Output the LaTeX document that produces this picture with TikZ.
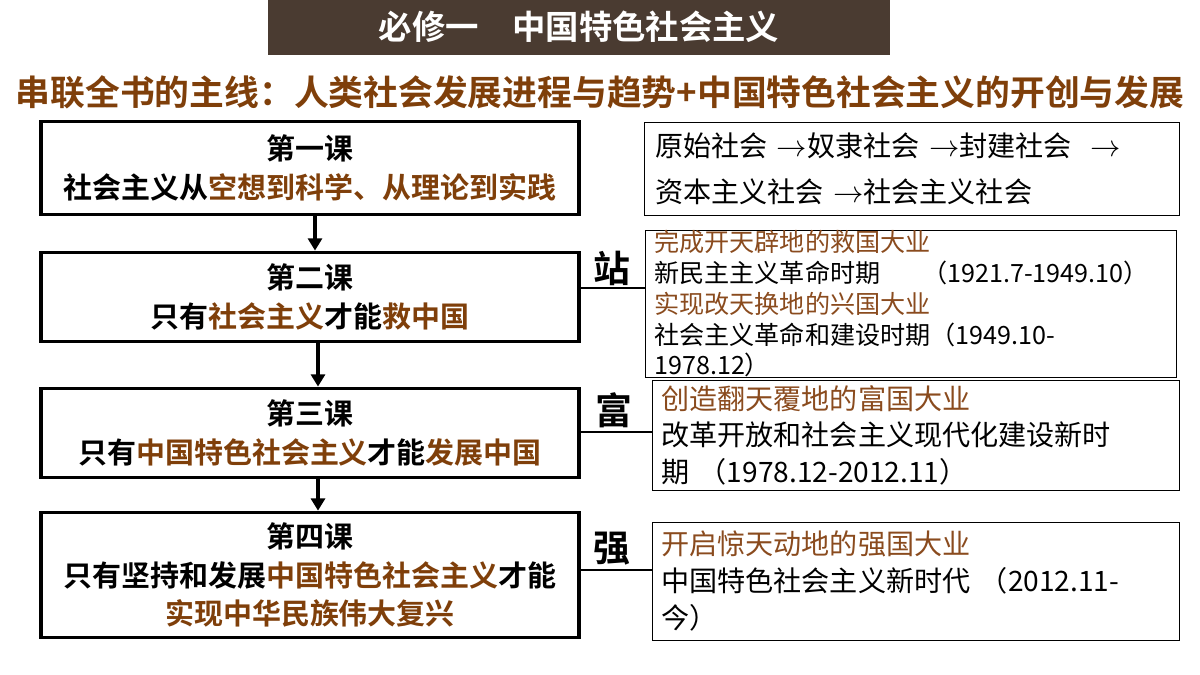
\documentclass[tikz,border=0pt]{standalone}
\usepackage{fontspec}
\setmainfont{Noto Sans CJK SC}[BoldFont={* Bold}]
\usetikzlibrary{arrows.meta}
\definecolor{barbrown}{HTML}{4A3B31}
\definecolor{keybrown}{HTML}{7F3F0A}
\definecolor{notebrown}{HTML}{8A4B1E}
\newcommand{\kb}[1]{\textcolor{keybrown}{#1}}
\newcommand{\nb}[1]{\textcolor{notebrown}{#1}}

\begin{document}
\begin{tikzpicture}[x=0.02cm,y=-0.02cm,
	lesson/.style={draw, line width=1.8pt, align=center, font=\fontsize{16.5}{22}\selectfont\bfseries, inner sep=0pt},
	note/.style={draw, line width=0.6pt, align=left, anchor=north west, inner xsep=6pt, inner ysep=0pt, font=\fontsize{16}{21}\selectfont},
	flow/.style={line width=2pt, -{Triangle[length=7pt,width=8pt]}},
	link/.style={line width=1.5pt},
	tag/.style={font=\fontsize{21}{22}\selectfont\bfseries}]
	\useasboundingbox (0,0) rectangle (1200,675);

	% title
	\fill[barbrown] (268,0) rectangle (890,55);
	\node[text=white, font=\fontsize{19}{20}\selectfont\bfseries] (title) at (579,27) {必修一\quad 中国特色社会主义};
	\node[text=keybrown, font=\fontsize{19.8}{21}\selectfont\bfseries] (thread) at (600,92) {串联全书的主线：人类社会发展进程与趋势+中国特色社会主义的开创与发展};

	% lessons
	\node[lesson, minimum width=540*0.567pt, minimum height=93*0.567pt] (les1) at (310,168) {第一课\\社会主义从\kb{空想到科学、从理论到实践}};
	\node[lesson, minimum width=540*0.567pt, minimum height=90*0.567pt] (les2) at (310,297) {第二课\\只有\kb{社会主义}才能\kb{救中国}};
	\node[lesson, minimum width=540*0.567pt, minimum height=90*0.567pt] (les3) at (310,433) {第三课\\只有\kb{中国特色社会主义}才能\kb{发展中国}};
	\node[lesson, minimum width=540*0.567pt, minimum height=126*0.567pt] (les4) at (310,575) {第四课\\只有坚持和发展\kb{中国特色社会主义}才能\\\kb{实现中华民族伟大复兴}};

	\draw[flow] (les1.south -| 315,0) -- (les2.north -| 315,0);
	\draw[flow] (les2.south -| 318,0) -- (les3.north -| 318,0);
	\draw[flow] (les3.south -| 318,0) -- (les4.north -| 318,0);

	% notes
	\node[note, text width=516*0.567pt, minimum height=93*0.567pt, font=\fontsize{16}{26}\selectfont] (rs) at (644,122) {原始社会\ $\rightarrow$奴隶社会\ $\rightarrow$封建社会\ \ $\rightarrow$\\资本主义社会\ $\rightarrow$社会主义社会};
	\node[note, text width=515*0.567pt, minimum height=125*0.567pt, inner xsep=5pt, font=\fontsize{14.3}{17.5}\selectfont] (rz) at (645,230) {\nb{完成开天辟地的救国大业}\\新民主主义革命时期\quad\ \ （1921.7-1949.10）\\\nb{实现改天换地的兴国大业}\\社会主义革命和建设时期（1949.10-1978.12）};
	\node[note, text width=511*0.567pt, minimum height=110*0.567pt, inner xsep=5pt] (rf) at (652,380) {\nb{创造翻天覆地的富国大业}\\改革开放和社会主义现代化建设新时\\期 （1978.12-2012.11）};
	\node[note, text width=511*0.567pt, minimum height=118*0.567pt, inner xsep=5pt] (rq) at (652,522) {\nb{开启惊天动地的强国大业}\\中国特色社会主义新时代 （2012.11-\\今）};

	% links
	\coordinate (zl) at (les2.east |- 0,288);
	\coordinate (fl) at (les3.east |- 0,432);
	\coordinate (ql) at (les4.east |- 0,570);
	\draw[link] (zl) -- (rz.west |- zl);
	\draw[link] (fl) -- (rf.west |- fl);
	\draw[link] (ql) -- (rq.west |- ql);
	\node[tag] (zhan) at (612,268) {站};
	\node[tag] (fu) at (614,410) {富};
	\node[tag] (qiang) at (612,549) {强};
\end{tikzpicture}
\end{document}
